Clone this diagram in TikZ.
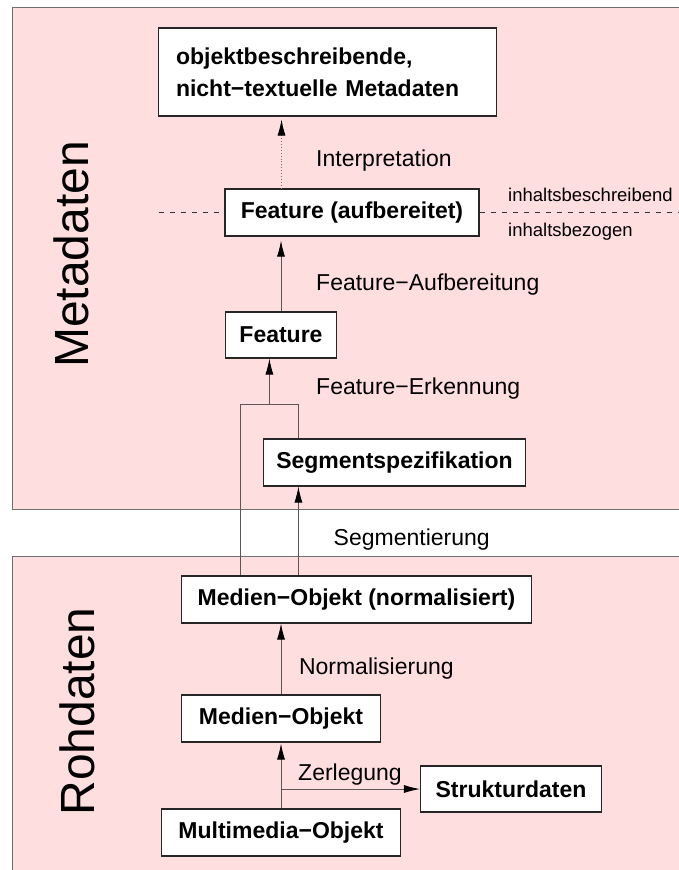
\documentclass[tikz,border=0pt]{standalone}
\usepackage{fontspec}
\setmainfont{Liberation Sans}
\usetikzlibrary{arrows.meta}
\definecolor{panelfill}{RGB}{255,222,224}
\definecolor{panelline}{RGB}{110,110,110}
\definecolor{wire}{RGB}{95,85,85}
\tikzset{
  panel/.style={fill=panelfill, draw=panelline, line width=1.6pt},
  box/.style={draw=black!85, fill=white, line width=1.1pt, inner sep=0pt,
    font=\fontsize{23}{32}\selectfont\bfseries},
  lbl/.style={anchor=base west, inner sep=0pt, font=\fontsize{23}{28}\selectfont},
  small/.style={anchor=base west, inner sep=0pt, font=\fontsize{18.5}{22}\selectfont},
  big/.style={rotate=90, inner sep=0pt, font=\fontsize{48}{56}\selectfont},
  arr/.style={line width=0.9pt, draw=wire, -{Latex[length=16pt,width=8pt,color=black]}},
  conn/.style={line width=0.9pt, draw=wire},
}
\begin{document}
\begin{tikzpicture}[x=1pt,y=-1pt]
  \useasboundingbox (0,0) rectangle (679,870);
  \clip (0,0) rectangle (679,870);

  % the two layers
  \path[panel] (12.3,7.3) rectangle (700,509.3);
  \path[panel] (12.3,556.3) rectangle (700,890);
  \node[big] (meta) at (71.3,254.5) {Metadaten};
  \node[big] (roh) at (77,711.5) {Rohdaten};

  % boxes
  \node[box, minimum height=88pt, inner xsep=17.5pt, text width=302.8pt, align=left] (obj) at (327.4,72)
    {objektbeschreibende,\\nicht−textuelle Metadaten};
  \node[box, minimum width=254pt, minimum height=47pt] (aufb) at (352,212.5) {Feature (aufbereitet)};
  \node[box, minimum width=111pt, minimum height=46pt] (feat) at (281,335) {Feature};
  \node[box, minimum width=262.5pt, minimum height=47pt] (seg) at (394.5,462.5) {Segmentspezifikation};
  \node[box, minimum width=350pt, minimum height=47pt] (mnorm) at (356.5,599.5) {Medien−Objekt (normalisiert)};
  \node[box, minimum width=199pt, minimum height=47pt] (mobj) at (281,718.5) {Medien−Objekt};
  \node[box, minimum width=181pt, minimum height=46pt] (struct) at (511,789) {Strukturdaten};
  \node[box, minimum width=239pt, minimum height=47pt] (multi) at (281,832.5) {Multimedia−Objekt};

  % boundary between content-describing and content-related data
  \coordinate (dl) at (158.5,212.5);
  \coordinate (dr) at (679,212.5);
  \draw[conn, draw=black!80, dash pattern=on 5pt off 6pt] (dl) -- (aufb.west);
  \draw[conn, draw=black!80, dash pattern=on 5pt off 6pt] (aufb.east) -- (dr);
  \node[small] (ib) at (508,201.5) {inhaltsbeschreibend};
  \node[small] (iz) at (508,236) {inhaltsbezogen};

  % interpretation
  \coordinate (ix) at (281.5,0);
  \draw[arr, draw=black!55, dotted, shorten >=3pt] (aufb.north -| ix) -- (obj.south -| ix);
  \node[lbl] (tinterp) at (316,166) {Interpretation};

  % feature preparation
  \draw[arr, shorten >=4pt] (feat.north) -- (feat.north |- aufb.south);
  \node[lbl] (tauf) at (316,290.5) {Feature−Aufbereitung};

  % feature detection from object and segment specification
  \coordinate (jl) at (240.4,404);
  \coordinate (jm) at (269.4,404);
  \coordinate (jr) at (298.4,404);
  \draw[conn] (jl |- mnorm.north) -- (jl) -- (jr) -- (jr |- seg.north);
  \draw[arr] (jm) -- (jm |- feat.south);
  \node[lbl] (terk) at (316,394) {Feature−Erkennung};

  % segmentation
  \draw[arr] (jr |- mnorm.north) -- (jr |- seg.south);
  \node[lbl] (tseg) at (333.5,545.5) {Segmentierung};

  % normalisation
  \draw[arr] (mobj.north) -- (mobj.north |- mnorm.south);
  \node[lbl] (tnorm) at (298.8,674) {Normalisierung};

  % decomposition
  \coordinate (zj) at (multi.north |- struct.west);
  \draw[arr, shorten >=1pt] (multi.north) -- (mobj.south);
  \draw[arr] (zj) -- (struct.west);
  \node[lbl] (tzer) at (298,780) {Zerlegung};
\end{tikzpicture}
\end{document}
